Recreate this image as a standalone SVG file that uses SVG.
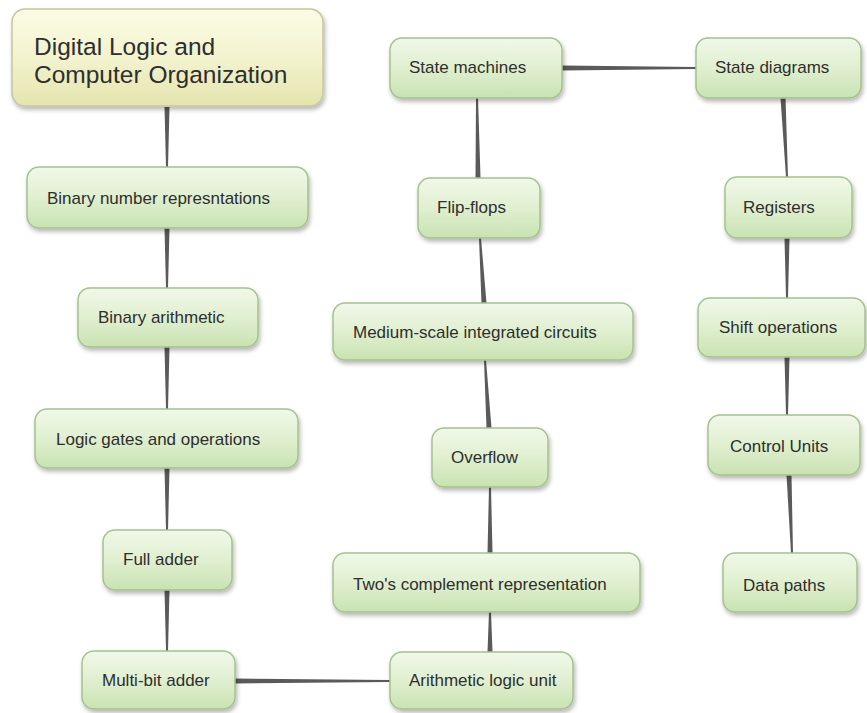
<svg xmlns="http://www.w3.org/2000/svg" width="867" height="713" viewBox="0 0 867 713">
<defs>
<linearGradient id="gGreen" x1="0" y1="0" x2="0" y2="1">
<stop offset="0" stop-color="#f1f8ea"/>
<stop offset="0.5" stop-color="#e0efd0"/>
<stop offset="1" stop-color="#c9e2b2"/>
</linearGradient>
<linearGradient id="gYellow" x1="0" y1="0" x2="0" y2="1">
<stop offset="0" stop-color="#fbfbe6"/>
<stop offset="0.5" stop-color="#f3f3cf"/>
<stop offset="1" stop-color="#e4e4ae"/>
</linearGradient>
<filter id="sh" x="-10%" y="-10%" width="125%" height="140%">
<feDropShadow dx="1.5" dy="3" stdDeviation="2" flood-color="#000" flood-opacity="0.28"/>
</filter>
</defs>
<style>
.n rect{fill:url(#gGreen);stroke:#a3c28c;stroke-width:1.5;filter:url(#sh)}
.t rect{fill:url(#gYellow);stroke:#c6c69c;stroke-width:1.5;filter:url(#sh)}
.n text{font-family:"Liberation Sans",Arial,sans-serif;font-size:17px;fill:#2e2e2e}
.t text{font-family:"Liberation Sans",Arial,sans-serif;font-size:24.5px;fill:#2e2e2e}
#connectors polygon{fill:#5a5a5a}
</style>
<rect width="867" height="713" fill="#ffffff"/>
<g id="connectors">
<polygon points="164.5,107 169.5,107 168,167 166,167"/>
<polygon points="164.5,228 169.5,228 168,288 166,288"/>
<polygon points="164.5,347 169.5,347 168,409 166,409"/>
<polygon points="164.5,468 169.5,468 168,530 166,530"/>
<polygon points="164.5,590 169.5,590 168,651 166,651"/>
<polygon points="235,678.5 235,683.5 390,682 390,680"/>
<polygon points="487.5,652 492.5,652 491,612 489,612"/>
<polygon points="487.5,553 492.5,553 491,487 489,487"/>
<polygon points="486.5,428 491.5,428 486,360 484,360"/>
<polygon points="481.5,303 486.5,303 481,238 479,238"/>
<polygon points="475.5,178 480.5,178 478,98 476,98"/>
<polygon points="562,65.5 562,70.5 696,69 696,67"/>
<polygon points="780.5,98 785.5,98 788,177 786,177"/>
<polygon points="784.5,238 789.5,238 788,298 786,298"/>
<polygon points="784.5,357 789.5,357 788,415 786,415"/>
<polygon points="786.5,475 791.5,475 793,553 791,553"/>
</g>
<g id="title" class="t">
<rect x="12" y="9" width="311" height="97" rx="13"/>
<text x="34" y="55">Digital Logic and</text>
<text x="34" y="83">Computer Organization</text>
</g>
<g id="binary-number" class="n">
<rect x="27" y="167" width="281" height="61" rx="12"/>
<text x="47" y="204">Binary number represntations</text>
</g>
<g id="binary-arithmetic" class="n">
<rect x="78" y="288" width="180" height="59" rx="12"/>
<text x="98" y="323">Binary arithmetic</text>
</g>
<g id="logic-gates" class="n">
<rect x="35" y="409" width="263" height="59" rx="12"/>
<text x="56" y="445">Logic gates and operations</text>
</g>
<g id="full-adder" class="n">
<rect x="103" y="530" width="129" height="60" rx="12"/>
<text x="123" y="565">Full adder</text>
</g>
<g id="multi-bit-adder" class="n">
<rect x="82" y="651" width="153" height="58" rx="12"/>
<text x="102" y="686">Multi-bit adder</text>
</g>
<g id="alu" class="n">
<rect x="390" y="652" width="183" height="57" rx="12"/>
<text x="409" y="686">Arithmetic logic unit</text>
</g>
<g id="twos-complement" class="n">
<rect x="333" y="553" width="307" height="59" rx="12"/>
<text x="353" y="590">Two's complement representation</text>
</g>
<g id="overflow" class="n">
<rect x="432" y="428" width="116" height="59" rx="12"/>
<text x="451" y="463">Overflow</text>
</g>
<g id="msi" class="n">
<rect x="333" y="303" width="300" height="57" rx="12"/>
<text x="353" y="338">Medium-scale integrated circuits</text>
</g>
<g id="flip-flops" class="n">
<rect x="418" y="178" width="122" height="60" rx="12"/>
<text x="437" y="213">Flip-flops</text>
</g>
<g id="state-machines" class="n">
<rect x="390" y="38" width="172" height="60" rx="12"/>
<text x="409" y="73">State machines</text>
</g>
<g id="state-diagrams" class="n">
<rect x="696" y="38" width="165" height="60" rx="12"/>
<text x="715" y="73">State diagrams</text>
</g>
<g id="registers" class="n">
<rect x="725" y="177" width="127" height="61" rx="12"/>
<text x="743" y="213">Registers</text>
</g>
<g id="shift-operations" class="n">
<rect x="698" y="298" width="167" height="59" rx="12"/>
<text x="719" y="333">Shift operations</text>
</g>
<g id="control-units" class="n">
<rect x="708" y="415" width="152" height="60" rx="12"/>
<text x="730" y="452">Control Units</text>
</g>
<g id="data-paths" class="n">
<rect x="723" y="553" width="134" height="59" rx="12"/>
<text x="743" y="591">Data paths</text>
</g>
</svg>
